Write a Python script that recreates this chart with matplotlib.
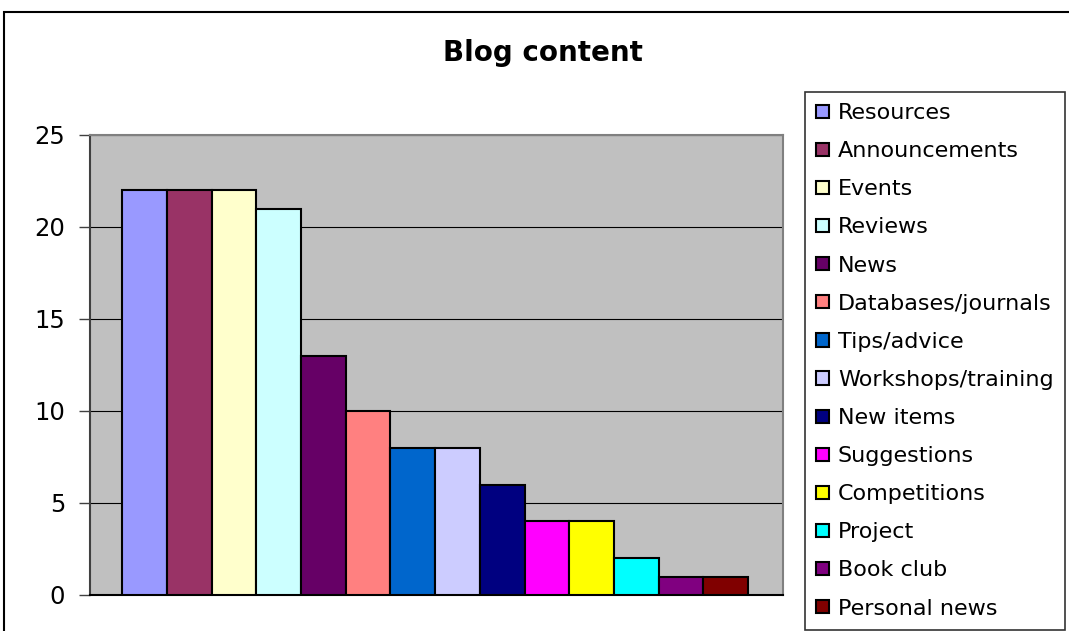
import matplotlib
matplotlib.use('Agg')
import matplotlib.pyplot as plt
from matplotlib.patches import Rectangle

# Number of posts per content type
CATEGORIES = ['Resources', 'Announcements', 'Events', 'Reviews', 'News',
              'Databases/journals', 'Tips/advice', 'Workshops/training',
              'New items', 'Suggestions', 'Competitions', 'Project',
              'Book club', 'Personal news']
COUNTS = [22, 22, 22, 21, 13, 10, 8, 8, 6, 4, 4, 2, 1, 1]
COLORS = ['#9999FF', '#993366', '#FFFFCC', '#CCFFFF', '#660066',
          '#FF8080', '#0066CC', '#CCCCFF', '#000080', '#FF00FF',
          '#FFFF00', '#00FFFF', '#800080', '#800000']
YTICKS = [0, 5, 10, 15, 20, 25]

plt.rcParams['font.family'] = ['DejaVu Sans']

W, H = 1069, 631
fig = plt.figure(figsize=(W / 100., H / 100.), dpi=100)

# Chart area frame, running off the right and bottom edges
fig.patches.append(Rectangle((4. / W, -0.05), 1.1, 1 - 12. / H + 0.05,
                             transform=fig.transFigure, fill=False,
                             edgecolor='black', linewidth=1.5))

ax = fig.add_axes([90. / W, 36. / H, 693. / W, 460. / H])
ax.set_facecolor('#C0C0C0')
for i, (lab, val, col) in enumerate(zip(CATEGORIES, COUNTS, COLORS)):
    ax.bar(i, val, width=1., align='edge', color=col, edgecolor='black',
           linewidth=1.5, label=lab, zorder=3)

ax.set_xlim(-0.72, 14.78)
ax.set_ylim(0, 25)
ax.set_yticks(YTICKS)
ax.set_xticks([])
ax.yaxis.grid(True, color='black', linewidth=0.8, zorder=1)
ax.set_axisbelow(True)
ax.tick_params(axis='y', labelsize=17.5, length=8, width=1, color='#404040',
               pad=10)
for side in ('top', 'right'):
    ax.spines[side].set_color('#808080')
    ax.spines[side].set_linewidth(1.5)
ax.spines['left'].set_color('#404040')
ax.spines['left'].set_linewidth(1.5)
ax.spines['bottom'].set_color('black')
ax.spines['bottom'].set_linewidth(1.5)

fig.text(543. / W, 1 - 53. / H, 'Blog content', ha='center', va='center',
         fontsize=20, fontweight='bold')

leg = fig.legend(loc='upper left', bbox_to_anchor=(805. / W, 1 - 92. / H),
                 fontsize=16, frameon=True, fancybox=False, shadow=False,
                 borderaxespad=0, labelspacing=0.815, handlelength=0.58,
                 handleheight=0.54, handletextpad=0.4, borderpad=0.5)
leg.get_frame().set_edgecolor('black')
leg.get_frame().set_linewidth(1.2)

fig.savefig('out.png', dpi=100)
